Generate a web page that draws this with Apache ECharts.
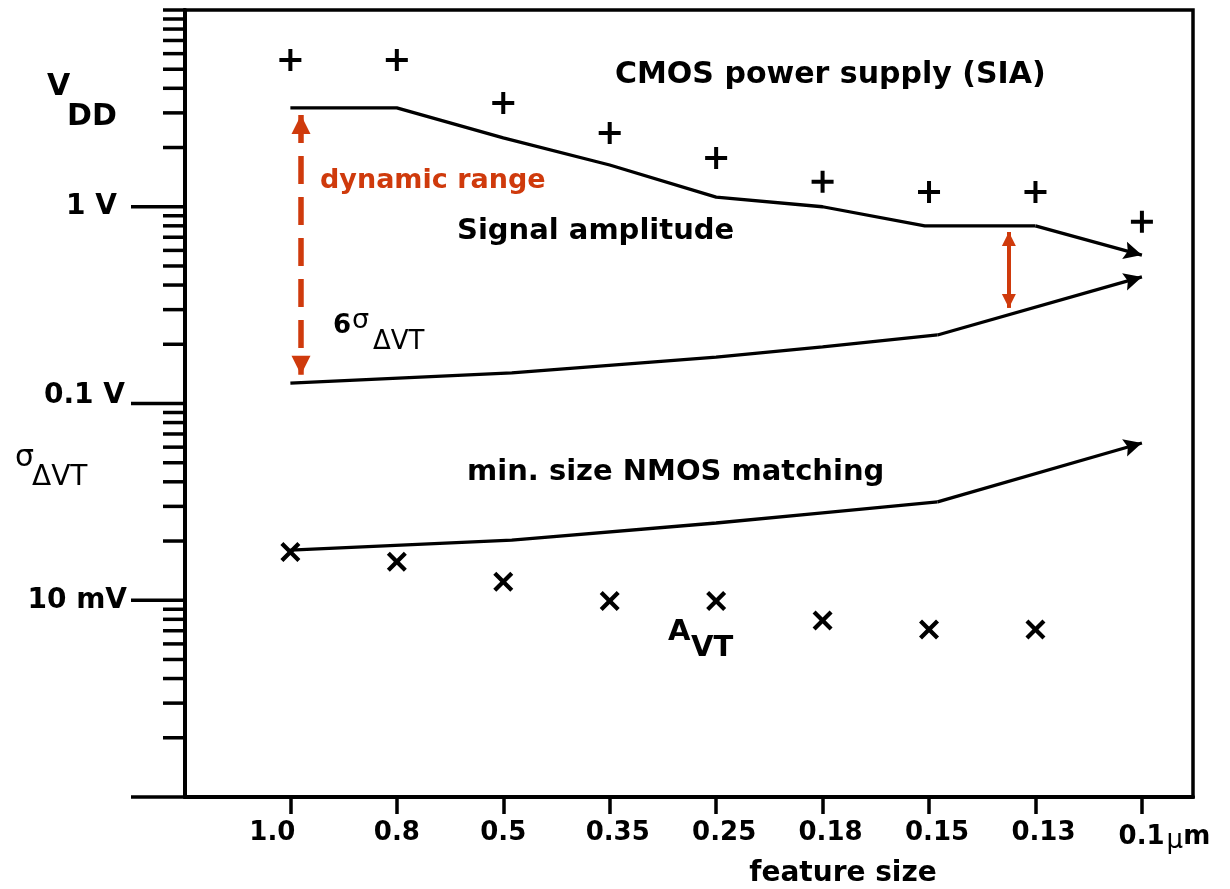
<!DOCTYPE html>
<html>
<head>
<meta charset="utf-8">
<script src="https://cdn.jsdelivr.net/npm/echarts@6/dist/echarts.min.js"></script>
<style>
  html, body { margin: 0; padding: 0; background: #fff; }
  #chart { width: 1230px; height: 889px; }
</style>
</head>
<body>
<div id="chart"></div>
<script>
// Feature-size categories (x positions are their indices 0..8)
const featureSizes = ['1.0', '0.8', '0.5', '0.35', '0.25', '0.18', '0.15', '0.13', '0.1'];
const featureIdx = [0, 1, 2, 3, 4, 5, 6, 7, 8];

// CMOS power supply VDD (SIA roadmap), volts
const supplyVdd = [5.57, 5.57, 3.37, 2.37, 1.77, 1.34, 1.19, 1.19, 0.84];

// Matching coefficient A_VT, plotted in volts
const avtIdx = [0, 1, 2, 3, 4, 5, 6, 7];
const avtValues = [0.0176, 0.0157, 0.0124, 0.0099, 0.0099, 0.0079, 0.0071, 0.0071];

// Signal amplitude trace and its arrow tip
const signalX = [0, 1, 2, 3, 4, 5, 5.96, 7];
const signalAmp = [3.18, 3.18, 2.24, 1.63, 1.12, 1.0, 0.80, 0.80];
const signalTip = [8, 0.568];

// 6 sigma(dVT) trace and its arrow tip
const sixSigmaX = [0, 2.08, 4, 5, 6.08];
const sixSigma = [0.127, 0.143, 0.172, 0.194, 0.223];
const sixSigmaTip = [8, 0.44];

// min. size NMOS matching sigma(dVT) trace and its arrow tip
const nmosX = [0, 2.08, 4, 5, 6.08];
const nmosSigma = [0.0180, 0.0202, 0.0247, 0.0278, 0.0316];
const nmosTip = [8, 0.063];

// Red range arrows: [x, top value, bottom value]
const dynRangeArrow = [0.1, 2.93, 0.14];
const marginArrow = [6.75, 0.744, 0.306];

// Y axis ticks and labels
const yMajorTicks = [0.001, 0.01, 0.1, 1];
const yMinorTicks = [
  0.002, 0.003, 0.004, 0.005, 0.006, 0.007, 0.008, 0.009,
  0.02, 0.03, 0.04, 0.05, 0.06, 0.07, 0.08, 0.09,
  0.2, 0.3, 0.4, 0.5, 0.6, 0.7, 0.8, 0.9,
  2, 3, 4, 5, 6, 7, 8, 9, 10
];
const yLabelValues = [0.01, 0.1, 1];
const yLabelTexts = ['10 mV', '0.1 V', '1 V'];
const yLabelStyles = ['mv', 'dv', 'v'];

const X_MIN = -0.99, X_MAX = 8.48;
const FONT = '"DejaVu Sans", "Liberation Sans", sans-serif';
const RED = '#cf3a0c';
const PLUS = 'path://M9,0H13V9H22V13H13V22H9V13H0V9H9Z';
const CROSS = 'path://M0,3L3,0L10,7L17,0L20,3L13,10L20,17L17,20L10,13L3,20L0,17L7,10Z';
const HEAD = 'path://M0,0L8,16L0,13L-8,16Z';

function pairs(xs, ys) { return xs.map((x, i) => [x, ys[i]]); }
// arrow head whose tip lands on the end coordinate
function head(coord, shape, size) {
  return { coord, symbol: shape, symbolSize: size, symbolOffset: [0, size / 2] };
}
function tailArrow(xs, ys, tip) {
  const n = xs.length - 1;
  return [[{ coord: [xs[n], ys[n]], symbol: 'none' }, head(tip, HEAD, 18)]];
}
function tickSeries(name, values, len) {
  return {
    name, type: 'custom', silent: true, clip: false, z: 5,
    data: values.map(v => [X_MIN, v]),
    renderItem: (params, api) => {
      const p = api.coord([api.value(0), api.value(1)]);
      return {
        type: 'line',
        shape: { x1: p[0] - len, y1: p[1], x2: p[0], y2: p[1] },
        style: { stroke: '#000', lineWidth: 3.5 }
      };
    }
  };
}
function blackArrowLine(name, xs, ys, tip) {
  return {
    name, type: 'line', data: pairs(xs, ys), showSymbol: false, silent: true,
    lineStyle: { color: '#000', width: 3.3 },
    markLine: {
      silent: true, animation: false,
      label: { show: false },
      lineStyle: { color: '#000', width: 3.3, type: 'solid' },
      data: tailArrow(xs, ys, tip)
    }
  };
}
function text(str, x, y, size, opts) {
  opts = opts || {};
  return {
    type: 'text', x, y, silent: true,
    style: {
      text: str, fill: opts.color || '#000',
      fontFamily: FONT, fontSize: size, fontWeight: opts.normal ? 'normal' : 'bold',
      textAlign: opts.align || 'left', align: opts.align || 'left',
      textVerticalAlign: 'middle', verticalAlign: 'middle'
    }
  };
}
const yLabelFont = { color: '#000', fontFamily: FONT, fontWeight: 'bold', fontSize: 28 };

const chart = echarts.init(document.getElementById('chart'), null, { renderer: 'canvas' });

chart.setOption({
  animation: false,
  backgroundColor: '#fff',
  grid: { left: 185, right: 37, top: 10, bottom: 92, show: true, borderColor: '#000', borderWidth: 3.5 },
  xAxis: {
    type: 'value', min: X_MIN, max: X_MAX,
    splitLine: { show: false },
    axisLine: { onZero: false, lineStyle: { color: '#000', width: 4 } },
    axisTick: { customValues: featureIdx, length: 17, lineStyle: { color: '#000', width: 3.5 } },
    axisLabel: {
      customValues: featureIdx, margin: 23,
      color: '#000', fontFamily: FONT, fontWeight: 'bold', fontSize: 26,
      formatter: v => {
        const i = Math.round(v);
        if (i === 0) return '{n|' + featureSizes[i] + '}{pad|}';
        if (i === featureSizes.length - 1) return '{padL|}{n|' + featureSizes[i] + '}{mu|μ}{n|m}';
        if (i >= 3) return '{padS|}{n|' + featureSizes[i] + '}';
        return '{n|' + featureSizes[i] + '}';
      },
      rich: {
        n: { color: '#000', fontFamily: FONT, fontWeight: 'bold', fontSize: 26 },
        mu: { color: '#000', fontFamily: FONT, fontWeight: 'normal', fontSize: 26, padding: [8, 0, 0, 2] },
        pad: { width: 36 },
        padS: { width: 16 },
        padL: { width: 45 }
      }
    }
  },
  yAxis: {
    type: 'log', logBase: 10, min: 0.001, max: 10,
    splitLine: { show: false },
    axisLine: { show: true, onZero: false, lineStyle: { color: '#000', width: 4 } },
    axisTick: { show: false },
    axisLabel: {
      margin: 58, color: '#000', fontFamily: FONT, fontWeight: 'bold', fontSize: 28,
      formatter: v => {
        const k = yLabelValues.findIndex(t => Math.abs(Math.log10(t) - Math.log10(v)) < 1e-6);
        return k >= 0 ? '{' + yLabelStyles[k] + '|' + yLabelTexts[k] + '}' : '';
      },
      rich: {
        mv: Object.assign({}, yLabelFont),
        dv: Object.assign({ padding: [0, 2, 16, 0] }, yLabelFont),
        v: Object.assign({ padding: [0, 10, 0, 0] }, yLabelFont)
      }
    }
  },
  series: [
    tickSeries('y major ticks', yMajorTicks, 54),
    tickSeries('y minor ticks', yMinorTicks, 22),
    {
      name: 'CMOS power supply (SIA)', type: 'scatter', silent: true,
      data: pairs(featureIdx, supplyVdd),
      symbol: PLUS, symbolSize: 22, itemStyle: { color: '#000', opacity: 1 },
      markLine: {
        silent: true, animation: false,
        label: { show: false },
        lineStyle: { color: RED, width: 5.5, type: [28, 13] },
        data: [
          [
            head([dynRangeArrow[0], dynRangeArrow[1]], 'triangle', 19),
            head([dynRangeArrow[0], dynRangeArrow[2]], 'triangle', 19)
          ],
          [
            Object.assign(head([marginArrow[0], marginArrow[1]], 'triangle', 14),
              { lineStyle: { color: RED, width: 4, type: 'solid' } }),
            head([marginArrow[0], marginArrow[2]], 'triangle', 14)
          ]
        ]
      }
    },
    blackArrowLine('Signal amplitude', signalX, signalAmp, signalTip),
    blackArrowLine('6σΔVT', sixSigmaX, sixSigma, sixSigmaTip),
    blackArrowLine('min. size NMOS matching', nmosX, nmosSigma, nmosTip),
    {
      name: 'AVT', type: 'scatter', silent: true,
      data: pairs(avtIdx, avtValues),
      symbol: CROSS, symbolSize: 20, itemStyle: { color: '#000', opacity: 1 }
    }
  ],
  graphic: [
    text('V', 47, 87, 30),
    text('DD', 67, 117, 30),
    text('σ', 15, 458, 30, { normal: true }),
    text('ΔVT', 32, 478, 28, { normal: true }),
    text('CMOS power supply (SIA)', 615, 75, 30),
    text('dynamic range', 320, 181, 27, { color: RED }),
    text('Signal amplitude', 457, 231, 29),
    text('6', 333, 326, 26),
    text('σ', 352, 321, 27, { normal: true }),
    text('ΔVT', 373, 342, 26, { normal: true }),
    text('min. size NMOS matching', 467, 472, 29),
    text('A', 668, 632, 29),
    text('VT', 691, 648, 29),
    text('feature size', 843, 874, 28, { align: 'center' })
  ]
});
</script>
</body>
</html>
